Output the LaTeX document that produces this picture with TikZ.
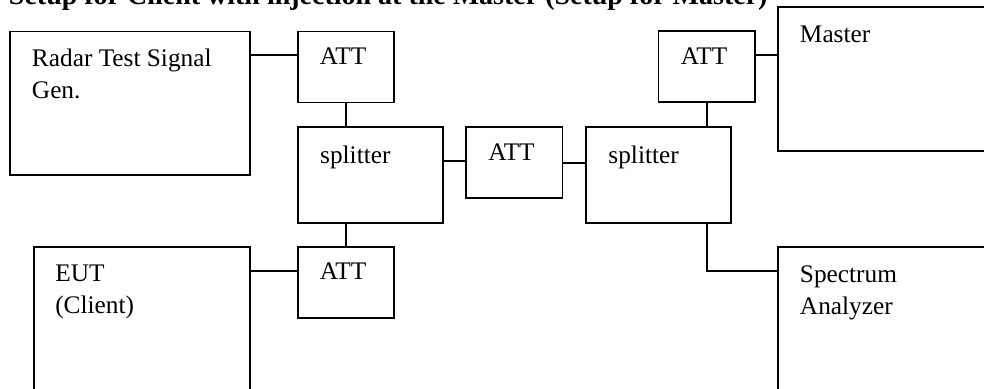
\documentclass[tikz,border=0pt]{standalone}
\usepackage{fontspec}
\setmainfont{Liberation Serif}
\newlength\unitpx
\setlength\unitpx{0.025cm}
\begin{document}
\begin{tikzpicture}[x=\unitpx, y=-\unitpx, line width=1.4pt,
  box/.style={draw, anchor=north west, inner sep=0pt, outer sep=0pt},
  attbox/.style={box, minimum width=96.5*\unitpx, minimum height=71*\unitpx},
  splitbox/.style={box, minimum width=145*\unitpx, minimum height=95.4*\unitpx},
  txt/.style={anchor=base west, align=left, inner sep=0pt, font=\fontsize{18}{22.5}\selectfont}]
\useasboundingbox (0,0) rectangle (984,388);
\clip (0,0) rectangle (984,388);
\node[anchor=base west, inner sep=0pt, font=\bfseries\fontsize{19.9}{22}\selectfont] (title) at (8,4)
  {Setup for Client with injection at the Master (Setup for Master)};
% big boxes
\node[box, minimum width=240*\unitpx, minimum height=143.2*\unitpx] (radar) at (10,31.5) {};
\node[box, minimum width=240*\unitpx, minimum height=143.4*\unitpx] (master) at (778,7.3) {};
\node[box, minimum width=216*\unitpx, minimum height=160*\unitpx] (eut) at (34,246.7) {};
\node[box, minimum width=240*\unitpx, minimum height=160*\unitpx] (spec) at (778,246.7) {};
% base of a two-line text is its last line
\node[txt] (radar-t) at ([shift={(21,66.8)}]radar.north west) {Radar Test Signal\\Gen.};
\node[txt] (master-t) at ([shift={(21,35.4)}]master.north west) {Master};
\node[txt] (eut-t) at ([shift={(20.3,66.8)}]eut.north west) {EUT\\(Client)};
\node[txt] (spec-t) at ([shift={(21,67.3)}]spec.north west) {Spectrum\\Analyzer};
% attenuators and splitters
\foreach \n/\x/\y in {att1/297.7/31.5, att2/658.5/31.3, att3/466/127.3, att4/297.7/246.7}
 {\node[attbox] (\n) at (\x,\y) {};
  \node[txt] (\n-t) at ([shift={(21.3,32.8)}]\n.north west) {ATT};}
\foreach \n/\x in {split1/297.7, split2/586}
 {\node[splitbox] (\n) at (\x,127.3) {};
  \node[txt] (\n-t) at ([shift={(21.5,35.8)}]\n.north west) {splitter};}
% cables
\draw ([shift={(0,23.2)}]att1.north west) coordinate (c1) -- (c1 -| radar.east);
\draw (att1.south) -- (att1.south |- split1.north);
\draw ([shift={(0,33.4)}]split1.north east) coordinate (c2) -- (c2 -| att3.west);
\draw ([shift={(0,35.4)}]split2.north west) coordinate (c3) -- (c3 -| att3.east);
\draw (att2.south) -- (att2.south |- split2.north);
\draw ([shift={(0,23.4)}]att2.north east) coordinate (c4) -- (c4 -| master.west);
\draw (att4.north) -- (att4.north |- split1.south);
\draw ([shift={(0,24)}]att4.north west) coordinate (c5) -- (c5 -| eut.east);
\draw (att2.south |- split2.south) |- ([shift={(0,24)}]spec.north west);
\end{tikzpicture}
\end{document}
